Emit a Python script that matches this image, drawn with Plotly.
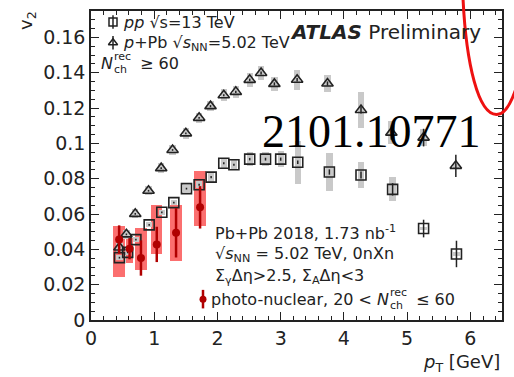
import plotly.graph_objects as go

# ---------------- data ----------------
# pp sqrt(s)=13 TeV (open squares)
pp_pt = [0.45, 0.58, 0.71, 0.92, 1.12, 1.31, 1.51, 1.71, 1.90, 2.10, 2.26, 2.51, 2.76, 3.00, 3.27, 3.77, 4.27, 4.77, 5.26, 5.78]
pp_v2 = [0.0353, 0.0383, 0.0455, 0.0539, 0.0610, 0.0665, 0.0744, 0.0766, 0.0809, 0.0888, 0.0879, 0.0911, 0.0911, 0.0911, 0.0893, 0.0838, 0.0821, 0.0740, 0.0518, 0.0374]
pp_stat = [0.0005, 0.0005, 0.0005, 0.0005, 0.0005, 0.0005, 0.0005, 0.0005, 0.0006, 0.0006, 0.0006, 0.0007, 0.0008, 0.0009, 0.0010, 0.0015, 0.0020, 0.0035, 0.0050, 0.0075]
pp_sys = [0.0015, 0.0015, 0.0015, 0.0015, 0.0015, 0.0015, 0.0020, 0.0020, 0.0025, 0.0030, 0.0030, 0.0040, 0.0040, 0.0045, 0.0120, 0.0105, 0.0075, 0.0068, 0.0010, 0.0010]

# p+Pb sqrt(sNN)=5.02 TeV (open triangles)
ppb_pt = [0.45, 0.56, 0.70, 0.91, 1.11, 1.29, 1.50, 1.71, 1.89, 2.10, 2.29, 2.51, 2.69, 2.90, 3.26, 3.74, 4.27, 4.75, 5.26, 5.77]
ppb_v2 = [0.0411, 0.0485, 0.0601, 0.0732, 0.0860, 0.0963, 0.1057, 0.1145, 0.1211, 0.1273, 0.1292, 0.1360, 0.1399, 0.1337, 0.1361, 0.1339, 0.1189, 0.1061, 0.1033, 0.0873]
ppb_stat = [0.0005, 0.0005, 0.0005, 0.0005, 0.0005, 0.0005, 0.0005, 0.0005, 0.0006, 0.0006, 0.0006, 0.0007, 0.0008, 0.0009, 0.0010, 0.0012, 0.0020, 0.0040, 0.0050, 0.0063]
ppb_sys = [0.0025, 0.0025, 0.0025, 0.0025, 0.0030, 0.0030, 0.0030, 0.0030, 0.0030, 0.0035, 0.0035, 0.0040, 0.0040, 0.0040, 0.0056, 0.0050, 0.0100, 0.0066, 0.0050, 0.0010]

# Pb+Pb photo-nuclear (filled red circles)
pn_pt = [0.445, 0.61, 0.79, 1.04, 1.345, 1.725]
pn_v2 = [0.0456, 0.0404, 0.0351, 0.0428, 0.0494, 0.0638]
pn_stat = [0.0080, 0.0060, 0.0100, 0.0100, 0.0140, 0.0120]
pn_sys_lo = [0.0242, 0.0322, 0.0285, 0.0372, 0.0336, 0.0535]
pn_sys_hi = [0.0535, 0.0462, 0.0520, 0.0652, 0.0650, 0.0845]
pn_bin_w = [0.185, 0.115, 0.18, 0.18, 0.18, 0.18]

x_ticks = [0, 1, 2, 3, 4, 5, 6]
y_ticks = [0, 0.02, 0.04, 0.06, 0.08, 0.1, 0.12, 0.14, 0.16]

# ---------------- layout geometry ----------------
W, H = 514, 377
ML, MR, MT, MB = 91, 12, 9, 57
PW, PH = W - ML - MR, H - MT - MB


def px(x):
    return (x - ML) / PW


def py(y):
    return 1 - (y - MT) / PH


FONT = "DejaVu Sans"
INK = "#222222"
GRAY = "#c9c9c9"
RED_BOX = "rgba(250,75,75,0.80)"
RED = "#b00000"

fig = go.Figure()

# photo-nuclear systematic boxes
fig.add_trace(go.Bar(
    x=pn_pt, y=[h - l for h, l in zip(pn_sys_hi, pn_sys_lo)], base=pn_sys_lo,
    width=pn_bin_w, marker=dict(color=RED_BOX, line=dict(width=0)),
    showlegend=False, hoverinfo="skip"))

# pp / pPb systematic boxes
fig.add_trace(go.Bar(
    x=ppb_pt, y=[2 * s for s in ppb_sys], base=[v - s for v, s in zip(ppb_v2, ppb_sys)],
    width=0.1, marker=dict(color=GRAY, line=dict(width=0)),
    showlegend=False, hoverinfo="skip"))
fig.add_trace(go.Bar(
    x=pp_pt, y=[2 * s for s in pp_sys], base=[v - s for v, s in zip(pp_v2, pp_sys)],
    width=0.1, marker=dict(color=GRAY, line=dict(width=0)),
    showlegend=False, hoverinfo="skip"))

# pp markers
fig.add_trace(go.Scatter(
    x=pp_pt, y=pp_v2, mode="markers",
    error_y=dict(type="data", array=pp_stat, color=INK, thickness=1.5, width=0),
    marker=dict(symbol="square-open", size=10, color=INK, line=dict(width=1.6)),
    showlegend=False))
# pPb markers
fig.add_trace(go.Scatter(
    x=ppb_pt, y=ppb_v2, mode="markers",
    error_y=dict(type="data", array=ppb_stat, color=INK, thickness=1.5, width=0),
    marker=dict(symbol="triangle-up-open", size=10, color=INK, line=dict(width=1.6)),
    showlegend=False))
# photo-nuclear markers
fig.add_trace(go.Scatter(
    x=pn_pt, y=pn_v2, mode="markers",
    error_y=dict(type="data", array=pn_stat, color=RED, thickness=2.5, width=0),
    marker=dict(symbol="circle", size=8, color=RED),
    showlegend=False))

# legend symbols on a hidden overlay axis (paper-like 0..1)
fig.add_trace(go.Scatter(
    x=[px(113)], y=[py(20)], xaxis="x2", yaxis="y2", mode="markers",
    error_y=dict(type="constant", value=0.022, color=INK, thickness=1.5, width=0),
    marker=dict(symbol="square-open", size=8, color=INK, line=dict(width=1.5)),
    showlegend=False, hoverinfo="skip"))
fig.add_trace(go.Scatter(
    x=[px(113)], y=[py(41)], xaxis="x2", yaxis="y2", mode="markers",
    error_y=dict(type="constant", value=0.022, color=INK, thickness=1.5, width=0),
    marker=dict(symbol="triangle-up-open", size=8, color=INK, line=dict(width=1.5)),
    showlegend=False, hoverinfo="skip"))
fig.add_trace(go.Scatter(
    x=[px(203)], y=[py(299)], xaxis="x2", yaxis="y2", mode="markers",
    error_y=dict(type="constant", value=0.03, color=RED, thickness=2.5, width=0),
    marker=dict(symbol="circle", size=7, color=RED),
    showlegend=False, hoverinfo="skip"))

ann = []


def text(x, y, s, size=16, xanchor="left", yanchor="middle", **kw):
    ann.append(dict(x=px(x), y=py(y), xref="paper", yref="paper", text=s,
                    showarrow=False, xanchor=xanchor, yanchor=yanchor,
                    font=dict(family=kw.pop("family", FONT), size=size,
                              color=kw.pop("color", INK)), **kw))


text(121, 21, "<i>pp</i> √s=13 TeV")
text(121, 42, "<i>p</i>+Pb √<i>s</i><sub>NN</sub>=5.02 TeV")
# N_ch^rec >= 60 (stacked super/subscript)
text(99, 62, "<i>N</i>")
text(112, 55, "rec", size=11)
text(112, 68, "ch", size=11)
text(138, 62, "≥ 60")

text(483, 30, "<b><i>ATLAS</i></b> Preliminary", size=20, xanchor="right")
text(213, 232, "Pb+Pb 2018, 1.73 nb<sup>-1</sup>")
text(213, 254, "√<i>s</i><sub>NN</sub> = 5.02 TeV, 0nXn")
text(213, 276, "Σ<sub>γ</sub>Δη>2.5, Σ<sub>A</sub>Δη<3")
text(209, 299, "photo-nuclear, 20 <")
text(375, 299, "<i>N</i>")
text(388, 292, "rec", size=11)
text(388, 305, "ch", size=11)
text(414, 299, "≤ 60")

text(502, 363, "<i>p</i><sub>T</sub> [GeV]", size=18, xanchor="right")
text(27, 19, "v<sub>2</sub>", size=18, xanchor="center", textangle=-90)
text(371, 130, "2101.10771", size=46, xanchor="center", family="Liberation Serif", color="#000000")

# red hand-drawn arc (pixel path converted to paper)
pts = [(463, -4), (466, 60), (478, 116), (498, 113), (506, 112), (512, 100), (517, 84)]
p = [(px(a), py(b)) for a, b in pts]
path = "M {:.4f},{:.4f} C {:.4f},{:.4f} {:.4f},{:.4f} {:.4f},{:.4f} C {:.4f},{:.4f} {:.4f},{:.4f} {:.4f},{:.4f}".format(
    *[c for pt in p for c in pt])
shapes = [dict(type="path", path=path, xref="paper", yref="paper",
               line=dict(color="#ee1111", width=3))]

axis_common = dict(showline=True, linecolor=INK, linewidth=1.5, mirror="allticks",
                   ticks="inside", ticklen=8, tickwidth=1.2, tickcolor=INK,
                   showgrid=False, zeroline=False,
                   tickfont=dict(family=FONT, size=19, color=INK))

fig.update_layout(
    width=W, height=H, margin=dict(l=ML, r=MR, t=MT, b=MB),
    paper_bgcolor="white", plot_bgcolor="white", barmode="overlay",
    bargap=0,
    xaxis=dict(range=[0, 6.5], tickvals=x_ticks,
               minor=dict(dtick=0.2, tick0=0, ticklen=4, ticks="inside", tickcolor=INK),
               **axis_common),
    yaxis=dict(range=[0, 0.175], tickvals=y_ticks,
               minor=dict(dtick=0.005, tick0=0, ticklen=4, ticks="inside", tickcolor=INK),
               **axis_common),
    xaxis2=dict(overlaying="x", range=[0, 1], visible=False),
    yaxis2=dict(overlaying="y", range=[0, 1], visible=False),
    annotations=ann, shapes=shapes, showlegend=False)

fig.write_html("out.html")
